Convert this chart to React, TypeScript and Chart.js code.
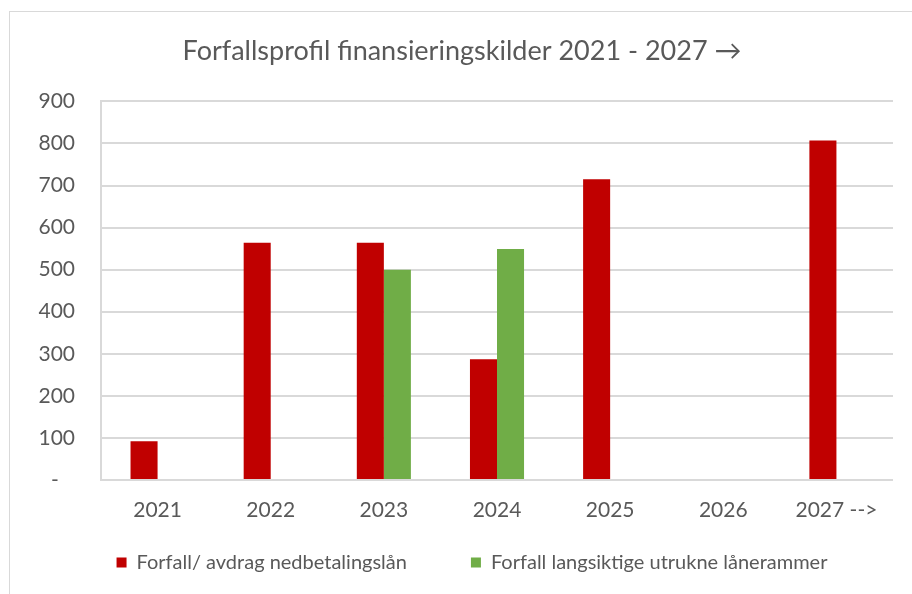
import React, { useEffect, useRef } from "react";
import { Chart, registerables } from "chart.js";

Chart.register(...registerables);

const categories = ["2021", "2022", "2023", "2024", "2025", "2026", "2027 -->"];
const nedbetalingslan = [92, 564, 564, 287, 715, 0, 807];
const laanerammer = [0, 0, 500, 549, 0, 0, 0];
const seriesNames = ["Forfall/ avdrag nedbetalingslån", "Forfall langsiktige utrukne lånerammer"];
const titleText = "Forfallsprofil finansieringskilder 2021 - 2027 →";

const FONT = "Lato, 'Open Sans', sans-serif";
const TEXT = "#595959";
const GRID = "#d9d9d9";

// Places the legend row lower than the box the layout reserved for it.
const legendPlacer = {
  id: "legendPlacer",
  afterLayout(chart: any) {
    const l = chart.legend;
    if (!l) return;
    l.top = 476.5;
    l.bottom = chart.height;
    l.height = l.bottom - l.top;
    l.left += 10;
    l.right += 10;
  },
};

export default function App() {
  const ref = useRef<HTMLCanvasElement | null>(null);
  useEffect(() => {
    document.body.style.overflow = "hidden";
    const chart = new Chart(ref.current!, {
      type: "bar",
      data: {
        labels: categories,
        datasets: [
          { label: seriesNames[0], data: nedbetalingslan, backgroundColor: "#C00000", borderWidth: 0 },
          { label: seriesNames[1], data: laanerammer, backgroundColor: "#70AD47", borderWidth: 0 },
        ],
      },
      plugins: [legendPlacer],
      options: {
        responsive: false,
        animation: false,
        layout: { padding: { left: 21, right: 19, top: 0, bottom: 51.8 } },
        datasets: { bar: { categoryPercentage: 0.478, barPercentage: 1 } },
        plugins: {
          title: {
            display: true,
            text: titleText,
            color: TEXT,
            font: { family: FONT, size: 27, weight: "normal" },
            padding: { top: 23, bottom: 34 },
          },
          legend: {
            position: "bottom",
            maxHeight: 1,
            labels: {
              color: TEXT,
              font: { family: FONT, size: 20 },
              boxWidth: 10,
              boxHeight: 10,
              padding: 64,
            },
          },
          tooltip: { enabled: false },
        },
        scales: {
          x: {
            grid: { display: false, drawTicks: false },
            border: { display: false },
            ticks: { color: TEXT, font: { family: FONT, size: 21 }, padding: 18, maxRotation: 0, autoSkip: false },
          },
          y: {
            min: 0,
            max: 900,
            grid: { color: GRID, lineWidth: 2, drawTicks: false },
            border: { display: true, color: GRID, width: 2 },
            ticks: {
              stepSize: 100,
              color: TEXT,
              font: { family: FONT, size: 21 },
              padding: 26,
              callback: (v: any) => (v === 0 ? "-   " : String(v)),
            },
            afterFit: (s: any) => { s.width = 70; },
          },
        },
      },
    });
    return () => chart.destroy();
  }, []);
  return (
    <div
      style={{
        position: "absolute",
        left: 9,
        top: 11,
        width: 903,
        height: 583,
        boxSizing: "border-box",
        borderLeft: "1px solid #d9d9d9",
        borderTop: "1px solid #d9d9d9",
        background: "#fff",
      }}
    >
      <canvas ref={ref} width={902} height={582} style={{ display: "block", width: 902, height: 582 }} />
    </div>
  );
}
